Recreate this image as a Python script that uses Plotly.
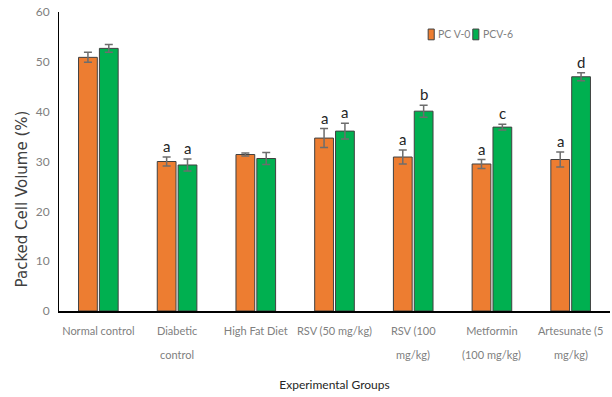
import plotly.graph_objects as go

# Experimental groups (x axis)
groups = ["Normal control", "Diabetic control", "High Fat Diet", "RSV (50 mg/kg)",
          "RSV (100 mg/kg)", "Metformin (100 mg/kg)", "Artesunate (5 mg/kg)"]
# Tick labels, split into first and second line
label_line1 = ["Normal control", "Diabetic", "High Fat Diet", "RSV (50 mg/kg)",
               "RSV (100", "Metformin", "Artesunate (5"]
label_line2 = ["", "control", "", "", "mg/kg)", "(100 mg/kg)", "mg/kg)"]

# Packed cell volume (%) at day 0 and day 6, with error
pcv0 = [50.9, 30.0, 31.4, 34.7, 30.9, 29.5, 30.4]
pcv0_err = [1.0, 0.9, 0.3, 1.9, 1.4, 0.9, 1.5]
pcv6 = [52.7, 29.3, 30.6, 36.1, 40.1, 36.9, 47.0]
pcv6_err = [0.8, 1.2, 1.2, 1.6, 1.2, 0.6, 0.8]

# Significance letters above each bar
letters0 = ["", "a", "", "a", "a", "a", "a"]
letters6 = ["", "a", "", "a", "b", "c", "d"]

ORANGE = "#ED7D31"
GREEN = "#00B050"
EDGE = "#404040"
ERR = "#6d6d6d"
TICK = "#808080"
FONT = "Lato"

BARGAP = 0.47
GROUPGAP = 0.1
slot = (1 - BARGAP) / 2
offset = slot / 2

fig = go.Figure()
fig.add_trace(go.Bar(
    name="PC V-0", x=groups, y=pcv0,
    marker=dict(color=ORANGE, line=dict(color=EDGE, width=1)),
    error_y=dict(type="data", array=pcv0_err, color=ERR, thickness=1.5, width=4),
))
fig.add_trace(go.Bar(
    name="PCV-6", x=groups, y=pcv6,
    marker=dict(color=GREEN, line=dict(color=EDGE, width=1)),
    error_y=dict(type="data", array=pcv6_err, color=ERR, thickness=1.5, width=4),
))

annotations = []
for i, g in enumerate(groups):
    for vals, errs, lets, sgn in ((pcv0, pcv0_err, letters0, -1), (pcv6, pcv6_err, letters6, 1)):
        if lets[i]:
            annotations.append(dict(
                x=i + sgn * offset, y=vals[i] + errs[i], xref="x", yref="y",
                text=lets[i], showarrow=False, yanchor="bottom", yshift=0,
                font=dict(family=FONT, size=15, color="#262626"),
            ))
    # second line of the category label
    if label_line2[i]:
        annotations.append(dict(
            x=i, y=0, xref="x", yref="paper", text=label_line2[i],
            showarrow=False, yanchor="middle", yshift=-43,
            font=dict(family=FONT, size=11, color=TICK),
        ))

# Y axis title
annotations.append(dict(
    x=-0.068, y=0.375, xref="paper", yref="paper", text="Packed Cell Volume (%)",
    textangle=-90, showarrow=False, xanchor="center", yanchor="middle",
    font=dict(family="DejaVu Sans", size=15, color="#404040"),
))

# Legend: colour swatches and labels
legend_items = [("PC V-0", ORANGE, 0.670), ("PCV-6", GREEN, 0.751)]
shapes = []
for label, color, lx in legend_items:
    shapes.append(dict(type="rect", xref="paper", yref="paper",
                       x0=lx, x1=lx + 0.011, y0=0.907, y1=0.943,
                       fillcolor=color, line=dict(color=EDGE, width=1)))
    annotations.append(dict(x=lx + 0.014, y=0.925, xref="paper", yref="paper",
                            text=label, showarrow=False, xanchor="left", yanchor="middle",
                            font=dict(family=FONT, size=10.5, color="#7f7f7f")))

fig.update_layout(
    width=612, height=397,
    margin=dict(l=59, r=2, t=12, b=86),
    paper_bgcolor="white", plot_bgcolor="white",
    barmode="group", bargap=BARGAP, bargroupgap=GROUPGAP,
    showlegend=False,
    font=dict(family=FONT, color=TICK, size=11),
    annotations=annotations, shapes=shapes,
    xaxis=dict(
        tickmode="array", tickvals=groups, ticktext=label_line1,
        showline=True, linecolor="black", linewidth=2, ticks="",
        tickfont=dict(family=FONT, size=11, color=TICK), ticklabelstandoff=9,
        title=dict(text="Experimental Groups", standoff=44,
                   font=dict(family=FONT, size=12, color="#262626")),
    ),
    yaxis=dict(
        range=[0, 60], dtick=10, showgrid=False, zeroline=False,
        showline=True, linecolor="black", linewidth=1, ticks="",
        tickfont=dict(family=FONT, size=12, color=TICK), ticklabelstandoff=6,
    ),
)

fig.write_html("out.html")
